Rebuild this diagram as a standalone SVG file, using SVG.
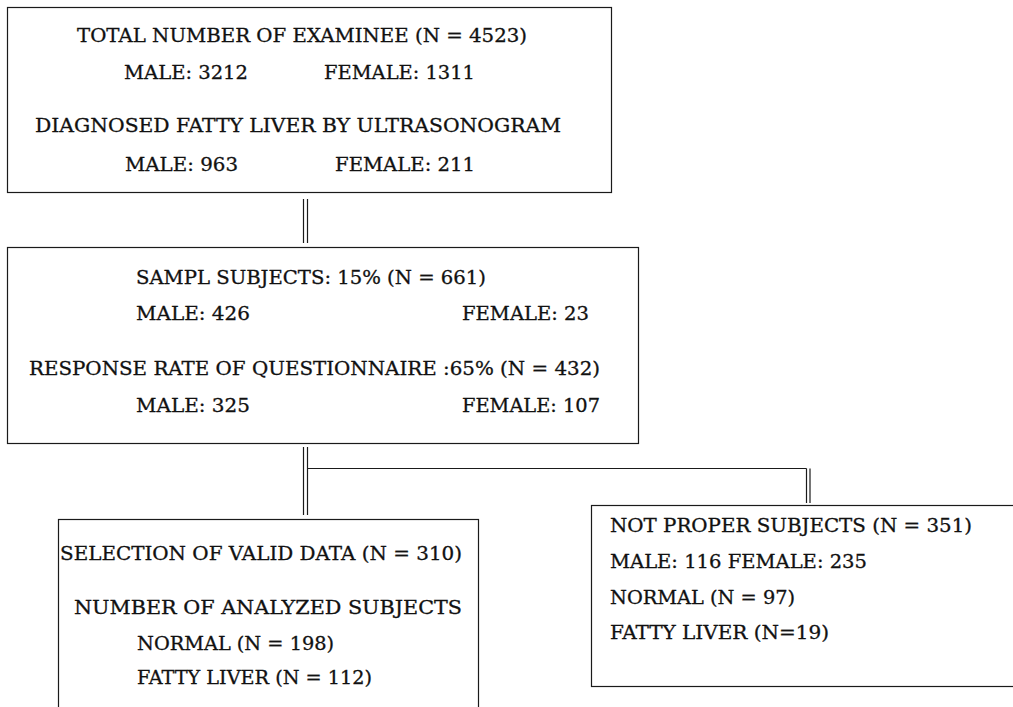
<svg xmlns="http://www.w3.org/2000/svg" width="1013" height="707" viewBox="0 0 1013 707">
<style>
.box{fill:#fff;stroke:#1a1a1a;stroke-width:1.2}
.ln{fill:none;stroke:#1a1a1a;stroke-width:1.2}
text{font-family:"DejaVu Serif","Liberation Serif",serif;font-size:18.5px;fill:#111;stroke:#111;stroke-width:0.3}
</style>
<rect width="1013" height="707" fill="#fff"/>
<g id="connectors">
<line class="ln" x1="303.5" y1="199" x2="303.5" y2="243"/>
<line class="ln" x1="307.5" y1="199" x2="307.5" y2="243"/>
<line class="ln" x1="303.5" y1="447" x2="303.5" y2="515"/>
<line class="ln" x1="307.5" y1="447" x2="307.5" y2="515"/>
<line class="ln" x1="307.5" y1="468.5" x2="806.5" y2="468.5"/>
<line class="ln" x1="806.5" y1="468.5" x2="806.5" y2="503"/>
<line class="ln" x1="810" y1="468.5" x2="810" y2="503"/>
</g>
<g id="total">
<rect class="box" x="7.5" y="7.5" width="604" height="185"/>
<text x="77" y="42" textLength="450" lengthAdjust="spacingAndGlyphs">TOTAL NUMBER OF EXAMINEE (N = 4523)</text>
<text x="124" y="79" textLength="124" lengthAdjust="spacingAndGlyphs">MALE: 3212</text>
<text x="324" y="79" textLength="151" lengthAdjust="spacingAndGlyphs">FEMALE: 1311</text>
<text x="35" y="132" textLength="526" lengthAdjust="spacingAndGlyphs">DIAGNOSED FATTY LIVER BY ULTRASONOGRAM</text>
<text x="125" y="171" textLength="113" lengthAdjust="spacingAndGlyphs">MALE: 963</text>
<text x="335" y="171" textLength="140" lengthAdjust="spacingAndGlyphs">FEMALE: 211</text>
</g>
<g id="sample">
<rect class="box" x="7.5" y="247.5" width="631" height="196"/>
<text x="136" y="284" textLength="350" lengthAdjust="spacingAndGlyphs">SAMPL SUBJECTS: 15% (N = 661)</text>
<text x="136" y="320" textLength="114" lengthAdjust="spacingAndGlyphs">MALE: 426</text>
<text x="462" y="320" textLength="127" lengthAdjust="spacingAndGlyphs">FEMALE: 23</text>
<text x="29" y="375" textLength="571" lengthAdjust="spacingAndGlyphs">RESPONSE RATE OF QUESTIONNAIRE :65% (N = 432)</text>
<text x="136" y="412" textLength="114" lengthAdjust="spacingAndGlyphs">MALE: 325</text>
<text x="462" y="412" textLength="138" lengthAdjust="spacingAndGlyphs">FEMALE: 107</text>
</g>
<g id="valid">
<rect class="box" x="58.5" y="519.5" width="420" height="200"/>
<text x="60" y="560" textLength="402" lengthAdjust="spacingAndGlyphs">SELECTION OF VALID DATA (N = 310)</text>
<text x="74" y="614" textLength="388" lengthAdjust="spacingAndGlyphs">NUMBER OF ANALYZED SUBJECTS</text>
<text x="137" y="650" textLength="197" lengthAdjust="spacingAndGlyphs">NORMAL (N = 198)</text>
<text x="137" y="684" textLength="235" lengthAdjust="spacingAndGlyphs">FATTY LIVER (N = 112)</text>
</g>
<g id="notproper">
<rect class="box" x="591.5" y="505.5" width="430" height="181"/>
<text x="610" y="532" textLength="362" lengthAdjust="spacingAndGlyphs">NOT PROPER SUBJECTS (N = 351)</text>
<text x="610" y="568" textLength="257" lengthAdjust="spacingAndGlyphs">MALE: 116 FEMALE: 235</text>
<text x="610" y="604" textLength="185" lengthAdjust="spacingAndGlyphs">NORMAL (N = 97)</text>
<text x="610" y="639" textLength="219" lengthAdjust="spacingAndGlyphs">FATTY LIVER (N=19)</text>
</g>
</svg>
